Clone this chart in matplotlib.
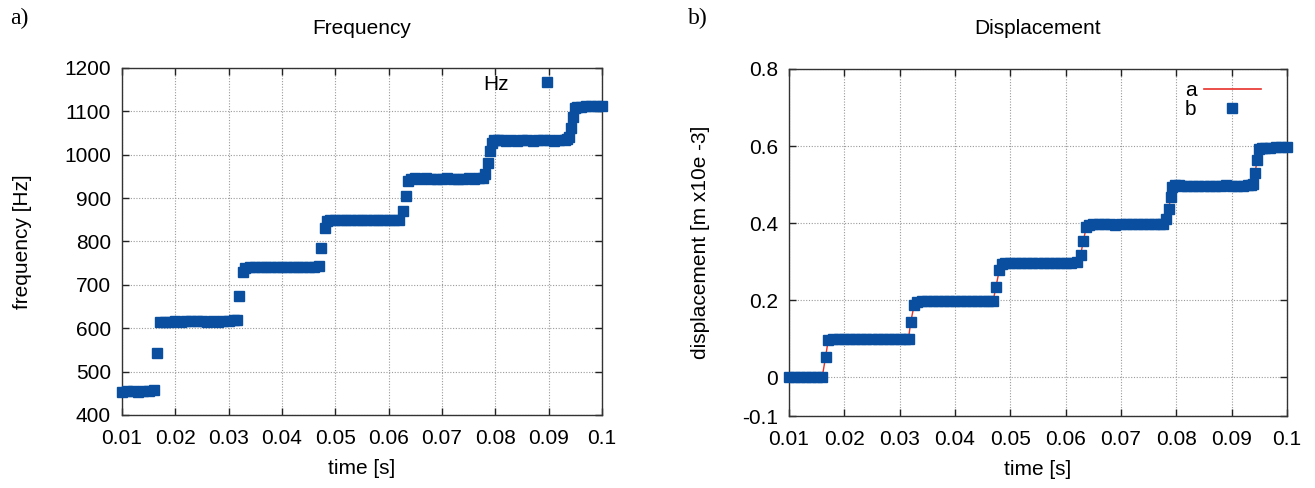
import matplotlib
matplotlib.use("Agg")
import matplotlib.pyplot as plt
from matplotlib.lines import Line2D

plt.rcParams['font.family'] = ['Liberation Sans', 'DejaVu Sans']

time_s = [0.010, 0.011, 0.012, 0.013, 0.014, 0.015, 0.016,
          0.0166,
          0.0171, 0.018, 0.019, 0.020, 0.021, 0.022, 0.023, 0.024, 0.025, 0.026, 0.027, 0.028, 0.029, 0.030, 0.031, 0.0316,
          0.0320, 0.0326,
          0.0331, 0.034, 0.035, 0.036, 0.037, 0.038, 0.039, 0.040, 0.041, 0.042, 0.043, 0.044, 0.045, 0.046, 0.0469,
          0.0474, 0.0480,
          0.0485, 0.049, 0.050, 0.051, 0.052, 0.053, 0.054, 0.055, 0.056, 0.057, 0.058, 0.059, 0.060, 0.061, 0.062,
          0.0627, 0.0632, 0.0637,
          0.0642, 0.065, 0.066, 0.067, 0.068, 0.069, 0.070, 0.071, 0.072, 0.073, 0.074, 0.075, 0.076, 0.077, 0.0776,
          0.0781, 0.0786, 0.0790, 0.0793,
          0.0798, 0.0805, 0.081, 0.082, 0.083, 0.084, 0.085, 0.086, 0.087, 0.088, 0.089, 0.090, 0.091, 0.092, 0.093, 0.0935,
          0.0939, 0.0942, 0.0946, 0.0949,
          0.0954, 0.096, 0.097, 0.098, 0.099, 0.100]

frequency_hz = [454, 455, 455, 454, 456, 456, 458,
                543,
                614, 615, 615, 616, 615, 616, 617, 616, 616, 615, 616, 615, 616, 617, 618, 618,
                674, 729,
                740, 742, 742, 741, 741, 742, 741, 741, 742, 741, 741, 742, 742, 741, 744,
                785, 830,
                848, 849, 850, 849, 849, 850, 849, 849, 850, 849, 849, 850, 850, 849, 850,
                870, 904, 940,
                945, 946, 945, 946, 945, 944, 945, 946, 945, 945, 945, 946, 945, 946, 947,
                955, 980, 1008, 1028,
                1034, 1033, 1033, 1032, 1033, 1032, 1033, 1033, 1032, 1033, 1034, 1033, 1032, 1033, 1034, 1036,
                1040, 1061, 1087, 1108,
                1111, 1111, 1112, 1112, 1112, 1113]

displacement = [0.0, 0.0, 0.0, 0.0, 0.0, 0.0, 0.001,
                0.052,
                0.098, 0.099, 0.099, 0.100, 0.099, 0.100, 0.100, 0.099, 0.100, 0.100, 0.099, 0.100, 0.100, 0.100, 0.101, 0.101,
                0.144, 0.187,
                0.196, 0.198, 0.198, 0.197, 0.198, 0.198, 0.197, 0.198, 0.198, 0.199, 0.198, 0.198, 0.197, 0.198, 0.199,
                0.235, 0.278,
                0.295, 0.297, 0.297, 0.298, 0.297, 0.297, 0.298, 0.297, 0.297, 0.298, 0.297, 0.298, 0.297, 0.297, 0.299,
                0.318, 0.354, 0.389,
                0.395, 0.397, 0.398, 0.397, 0.397, 0.396, 0.397, 0.398, 0.397, 0.397, 0.397, 0.397, 0.398, 0.397, 0.398,
                0.410, 0.437, 0.468, 0.494,
                0.499, 0.498, 0.497, 0.496, 0.497, 0.497, 0.497, 0.496, 0.497, 0.497, 0.498, 0.497, 0.497, 0.497, 0.498, 0.500,
                0.503, 0.529, 0.563, 0.592,
                0.594, 0.595, 0.596, 0.597, 0.598, 0.598]

x_ticks = [0.01, 0.02, 0.03, 0.04, 0.05, 0.06, 0.07, 0.08, 0.09, 0.1]
x_ticklabels = ['0.01', '0.02', '0.03', '0.04', '0.05', '0.06', '0.07', '0.08', '0.09', '0.1']
freq_ticks = [400, 500, 600, 700, 800, 900, 1000, 1100, 1200]
disp_ticks = [-0.1, 0, 0.2, 0.4, 0.6, 0.8]
disp_ticklabels = ['-0.1', '0', '0.2', '0.4', '0.6', '0.8']

BLUE = '#0a4f9f'
RED = '#e8302a'
FS = 15
MS = 7.2

fig = plt.figure(figsize=(13.15, 4.88), dpi=100)
ax1 = fig.add_axes([122/1315, 1-415/488, (602-122)/1315, (415-68)/488])
ax2 = fig.add_axes([789/1315, 1-416/488, (1287-789)/1315, (416-69)/488])

def style(ax):
    ax.grid(True, color='#9a9a9a', linestyle=(0, (1, 1.5)), linewidth=0.8)
    ax.set_axisbelow(True)
    ax.tick_params(direction='in', top=True, right=True, length=5, width=1,
                   labelsize=FS, pad=8, color='#222222')
    ax.tick_params(axis='x', pad=10)
    for s in ax.spines.values():
        s.set_color('#333333')
        s.set_linewidth(1.0)
    ax.set_xlim(0.01, 0.1)
    ax.set_xticks(x_ticks)
    ax.set_xticklabels(x_ticklabels)
    ax.set_xlabel('time [s]', fontsize=FS, labelpad=8)

style(ax1)
ax1.set_ylim(400, 1200)
ax1.set_yticks(freq_ticks)
ax1.set_ylabel('frequency [Hz]', fontsize=FS)
ax1.yaxis.set_label_coords((32 - 122) / 480, 0.5)
ax1.plot(time_s, frequency_hz, linestyle='none', marker='s', markersize=MS,
         color=BLUE, clip_on=False, zorder=3)
h_hz = Line2D([], [], linestyle='none', marker='s', markersize=MS, color=BLUE)
ax1.legend([h_hz], ['Hz'], loc='upper right', bbox_to_anchor=(0.944, 0.981),
           frameon=False, markerfirst=False, fontsize=FS, handlelength=2.7,
           handletextpad=0.5, borderpad=0, borderaxespad=0)

style(ax2)
ax2.set_ylim(-0.1, 0.8)
ax2.set_yticks(disp_ticks)
ax2.set_yticklabels(disp_ticklabels)
ax2.set_ylabel('displacement [m x10e -3]', fontsize=FS)
ax2.yaxis.set_label_coords((710 - 789) / 498, 0.5)
ax2.plot(time_s, displacement, color=RED, linewidth=1.0, zorder=2, clip_on=False)
ax2.plot(time_s, displacement, linestyle='none', marker='s', markersize=MS,
         color=BLUE, clip_on=False, zorder=3)
h_a = Line2D([], [], color=RED, linewidth=1.2)
h_b = Line2D([], [], linestyle='none', marker='s', markersize=MS, color=BLUE)
ax2.legend([h_a, h_b], ['a', 'b'], loc='upper right', bbox_to_anchor=(0.948, 0.965),
           frameon=False, markerfirst=False, fontsize=FS, handlelength=2.75,
           handletextpad=0.35, labelspacing=0.0, borderpad=0, borderaxespad=0)

fig.text(362/1315, 1-28/488, 'Frequency', ha='center', va='center', fontsize=FS)
fig.text(1038/1315, 1-28/488, 'Displacement', ha='center', va='center', fontsize=FS)
fig.text(10/1315, 1-18/488, 'a)', ha='left', va='center', fontsize=17,
         family=['Liberation Serif', 'DejaVu Serif'])
fig.text(688/1315, 1-18/488, 'b)', ha='left', va='center', fontsize=17,
         family=['Liberation Serif', 'DejaVu Serif'])

fig.savefig('out.png', dpi=100)
